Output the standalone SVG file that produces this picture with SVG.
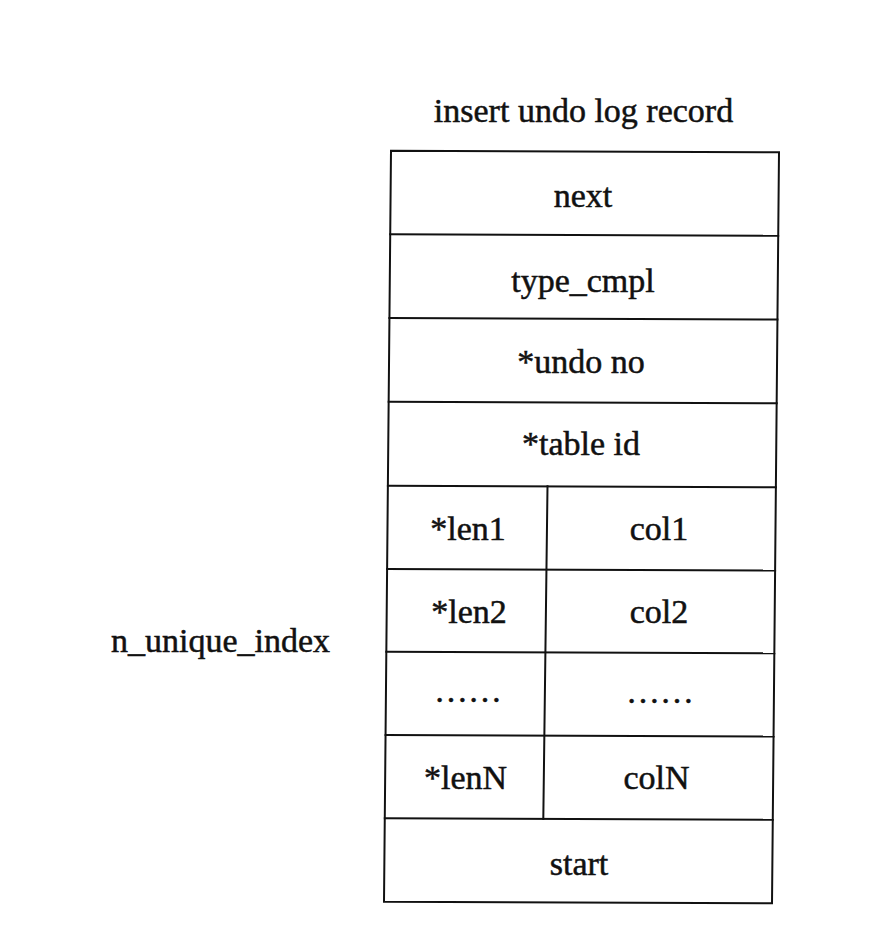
<svg xmlns="http://www.w3.org/2000/svg" width="878" height="932" viewBox="0 0 878 932">
<style>
text{font-family:"Liberation Serif","Times New Roman",serif;font-size:34px;fill:#111;stroke:#111;stroke-width:0.5;}
.c{text-anchor:middle;}
.ln{stroke:#111;stroke-width:2;fill:none;stroke-linecap:square;}
</style>
<rect width="878" height="932" fill="#fff"/>
<g id="title"><text class="c" x="583.5" y="122">insert undo log record</text></g>
<g id="label-n_unique_index"><text x="111" y="652">n_unique_index</text></g>
<g id="connectors">
<polygon class="ln" points="391,150.7 779,152.2 772,903.2 384,901.7"/>
<line class="ln" x1="390.2" y1="234.3" x2="778.2" y2="235.8"/>
<line class="ln" x1="389.4" y1="318" x2="777.4" y2="319.5"/>
<line class="ln" x1="388.7" y1="401.8" x2="776.7" y2="403.3"/>
<line class="ln" x1="387.9" y1="485.7" x2="775.9" y2="487.2"/>
<line class="ln" x1="387.1" y1="569" x2="775.1" y2="570.5"/>
<line class="ln" x1="386.3" y1="651.7" x2="774.3" y2="653.2"/>
<line class="ln" x1="385.6" y1="735" x2="773.6" y2="736.5"/>
<line class="ln" x1="384.8" y1="818.3" x2="772.8" y2="819.8"/>
<line class="ln" x1="547.5" y1="486.3" x2="543.3" y2="818.9"/>
</g>
<g id="cell-next"><text class="c" x="583" y="207">next</text></g>
<g id="cell-type_cmpl"><text class="c" x="583" y="292">type_cmpl</text></g>
<g id="cell-undo-no"><text class="c" x="581" y="373">*undo no</text></g>
<g id="cell-table-id"><text class="c" x="581" y="455">*table id</text></g>
<g id="cell-len1"><text class="c" x="468" y="540">*len1</text></g>
<g id="cell-col1"><text class="c" x="659" y="540">col1</text></g>
<g id="cell-len2"><text class="c" x="469" y="623">*len2</text></g>
<g id="cell-col2"><text class="c" x="659" y="623">col2</text></g>
<g id="cell-dots-left"><text class="c" x="468" y="702">……</text></g>
<g id="cell-dots-right"><text class="c" x="660" y="703">……</text></g>
<g id="cell-lenN"><text class="c" x="465.5" y="789">*lenN</text></g>
<g id="cell-colN"><text class="c" x="656.5" y="789">colN</text></g>
<g id="cell-start"><text class="c" x="579" y="875">start</text></g>
</svg>
